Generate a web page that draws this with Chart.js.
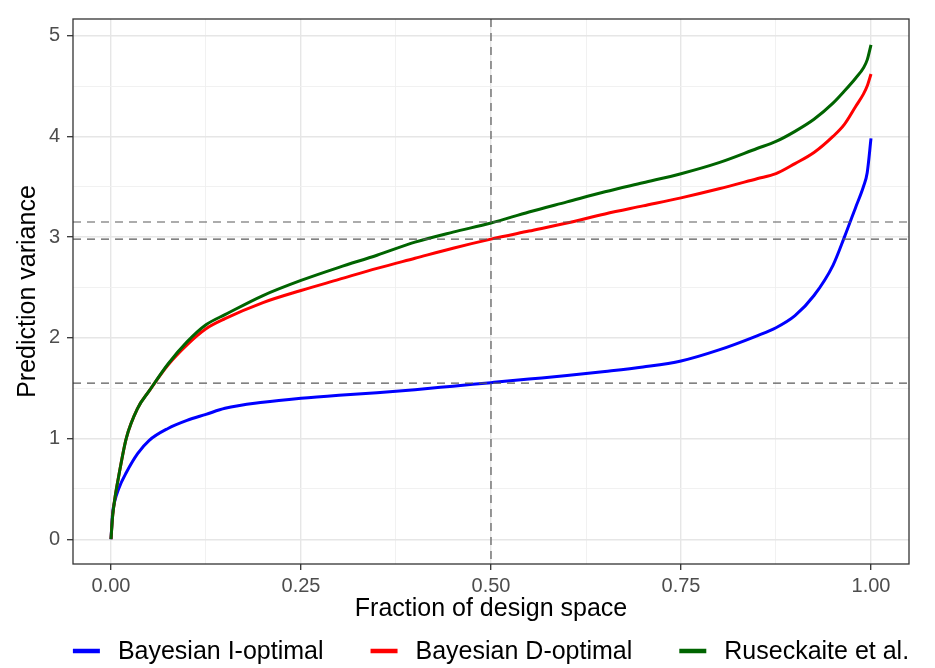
<!DOCTYPE html>
<html>
<head>
<meta charset="utf-8">
<script src="https://cdn.jsdelivr.net/npm/chart.js@4/dist/chart.umd.min.js"></script>
<style>
  html, body { margin: 0; padding: 0; background: #ffffff; }
  #wrap { width: 935px; height: 668px; }
</style>
</head>
<body>
<div id="wrap"><canvas id="c" width="935" height="668"></canvas></div>
<script>
// ---- data ----
const fraction   = [0, 0.002, 0.005, 0.01, 0.02, 0.035, 0.05, 0.075, 0.1, 0.125, 0.15, 0.2, 0.25, 0.3, 0.35, 0.4, 0.45, 0.5, 0.55, 0.6, 0.65, 0.7, 0.75, 0.8, 0.85, 0.875, 0.9, 0.925, 0.95, 0.965, 0.98, 0.99, 0.995, 1.0];
const iOptimal   = [0, 0.25, 0.38, 0.5, 0.66, 0.85, 0.98, 1.1, 1.18, 1.24, 1.3, 1.36, 1.40, 1.43, 1.455, 1.485, 1.52, 1.555, 1.59, 1.625, 1.665, 1.71, 1.77, 1.88, 2.02, 2.10, 2.22, 2.42, 2.72, 3.0, 3.3, 3.5, 3.64, 3.98];
const dOptimal   = [0, 0.22, 0.4, 0.62, 1.0, 1.3, 1.47, 1.73, 1.93, 2.09, 2.19, 2.35, 2.47, 2.58, 2.69, 2.79, 2.89, 2.98, 3.06, 3.14, 3.23, 3.31, 3.39, 3.48, 3.58, 3.63, 3.73, 3.84, 4.0, 4.12, 4.3, 4.42, 4.5, 4.62];
const ruseckaite = [0, 0.22, 0.4, 0.62, 1.0, 1.3, 1.47, 1.74, 1.96, 2.13, 2.23, 2.42, 2.57, 2.7, 2.82, 2.95, 3.05, 3.14, 3.25, 3.35, 3.45, 3.54, 3.63, 3.74, 3.88, 3.95, 4.05, 4.17, 4.33, 4.45, 4.58, 4.68, 4.76, 4.91];
const seriesLabels = ['Bayesian I-optimal', 'Bayesian D-optimal', 'Ruseckaite et al.'];
const seriesColors = ['#0000FF', '#FF0000', '#006400'];
const xMajorTicks = ['0.00', '0.25', '0.50', '0.75', '1.00'];
const yMajorTicks = ['0', '1', '2', '3', '4', '5'];
const refLinesY = [3.15, 2.98, 1.55];
const refLinesX = [0.5];

const toPoints = ys => fraction.map((x, i) => ({ x: x, y: ys[i] }));
const seriesValues = [iOptimal, dOptimal, ruseckaite];
const drawOrder = [2, 1, 0]; // green on top

const FONT = '"Liberation Sans", Arial, Helvetica, sans-serif';

const isMajorX = v => xMajorTicks.includes(Number(v).toFixed(2));
const isMajorY = v => yMajorTicks.includes(String(Math.round(v * 1000) / 1000));

const panelPlugin = {
  id: 'panel',
  afterDatasetsDraw(chart) {
    const { ctx, chartArea: a, scales } = chart;
    ctx.save();
    ctx.beginPath();
    ctx.rect(a.left, a.top, a.right - a.left, a.bottom - a.top);
    ctx.clip();
    ctx.strokeStyle = '#5a5a5a';
    ctx.lineWidth = 1.2;
    ctx.setLineDash([8, 6]);
    refLinesY.forEach(v => {
      const y = scales.y.getPixelForValue(v);
      ctx.beginPath(); ctx.moveTo(a.left, y); ctx.lineTo(a.right, y); ctx.stroke();
    });
    refLinesX.forEach(v => {
      const x = scales.x.getPixelForValue(v);
      ctx.beginPath(); ctx.moveTo(x, a.top); ctx.lineTo(x, a.bottom); ctx.stroke();
    });
    ctx.restore();
    ctx.save();
    ctx.strokeStyle = '#333333';
    ctx.lineWidth = 1.3;
    ctx.strokeRect(a.left, a.top, a.right - a.left, a.bottom - a.top);
    ctx.restore();
  }
};

const legendPlugin = {
  id: 'ggLegend',
  afterDraw(chart) {
    const { ctx, chartArea: a } = chart;
    ctx.save();
    ctx.font = '25px ' + FONT;
    const lineLen = 27, gap = 18, spacing = 47;
    const items = chart.data.datasets.map(d => ({ label: d.label, color: d.borderColor, w: ctx.measureText(d.label).width }));
    const total = items.reduce((s, it) => s + lineLen + gap + it.w, 0) + spacing * (items.length - 1);
    let x = (a.left + a.right) / 2 - total / 2;
    const y = 651;
    ctx.textBaseline = 'middle';
    ctx.textAlign = 'left';
    items.forEach(it => {
      ctx.strokeStyle = it.color;
      ctx.lineWidth = 4.5;
      ctx.beginPath(); ctx.moveTo(x, y); ctx.lineTo(x + lineLen, y); ctx.stroke();
      ctx.fillStyle = '#000000';
      ctx.fillText(it.label, x + lineLen + gap, y + 1);
      x += lineLen + gap + it.w + spacing;
    });
    ctx.restore();
  }
};

new Chart(document.getElementById('c'), {
  type: 'line',
  data: {
    datasets: seriesLabels.map((label, i) => ({
      label: label,
      data: toPoints(seriesValues[i]),
      borderColor: seriesColors[i],
      backgroundColor: seriesColors[i],
      borderWidth: 3,
      pointRadius: 0,
      fill: false,
      cubicInterpolationMode: 'monotone',
      order: drawOrder[i]
    }))
  },
  options: {
    responsive: false,
    animation: false,
    devicePixelRatio: 1,
    layout: { padding: { left: 0, right: 26, top: 13, bottom: 0 } },
    plugins: { legend: { display: false }, tooltip: { enabled: false } },
    scales: {
      x: {
        type: 'linear',
        min: -0.05, max: 1.05,
        afterFit: s => { s.height = 104; },
        border: { display: false },
        grid: {
          color: c => isMajorX(c.tick.value) ? '#e6e6e6' : '#efefef',
          lineWidth: c => isMajorX(c.tick.value) ? 1.4 : 0.9,
          tickColor: c => isMajorX(c.tick.value) ? '#333333' : 'rgba(0,0,0,0)',
          tickLength: 6,
          tickWidth: 1.3
        },
        ticks: {
          stepSize: 0.125,
          includeBounds: false,
          autoSkip: false,
          maxRotation: 0,
          padding: 4,
          color: '#4d4d4d',
          font: { family: FONT, size: 20 },
          callback: v => isMajorX(v) ? Number(v).toFixed(2) : ''
        },
        title: {
          display: true,
          text: 'Fraction of design space',
          color: '#000000',
          font: { family: FONT, size: 25 },
          padding: { top: 0, bottom: 44 }
        }
      },
      y: {
        type: 'linear',
        min: -0.246, max: 5.166,
        afterFit: s => { s.width = 73; },
        border: { display: false },
        grid: {
          color: c => isMajorY(c.tick.value) ? '#e6e6e6' : '#efefef',
          lineWidth: c => isMajorY(c.tick.value) ? 1.4 : 0.9,
          tickColor: c => isMajorY(c.tick.value) ? '#333333' : 'rgba(0,0,0,0)',
          tickLength: 6,
          tickWidth: 1.3
        },
        ticks: {
          stepSize: 0.5,
          includeBounds: false,
          autoSkip: false,
          padding: 7,
          color: '#4d4d4d',
          font: { family: FONT, size: 20 },
          callback: v => isMajorY(v) ? String(Math.round(v)) : ''
        },
        title: {
          display: true,
          text: 'Prediction variance',
          color: '#000000',
          font: { family: FONT, size: 25 },
          padding: { top: 13, bottom: 0 }
        }
      }
    }
  },
  plugins: [panelPlugin, legendPlugin]
});
</script>
</body>
</html>
